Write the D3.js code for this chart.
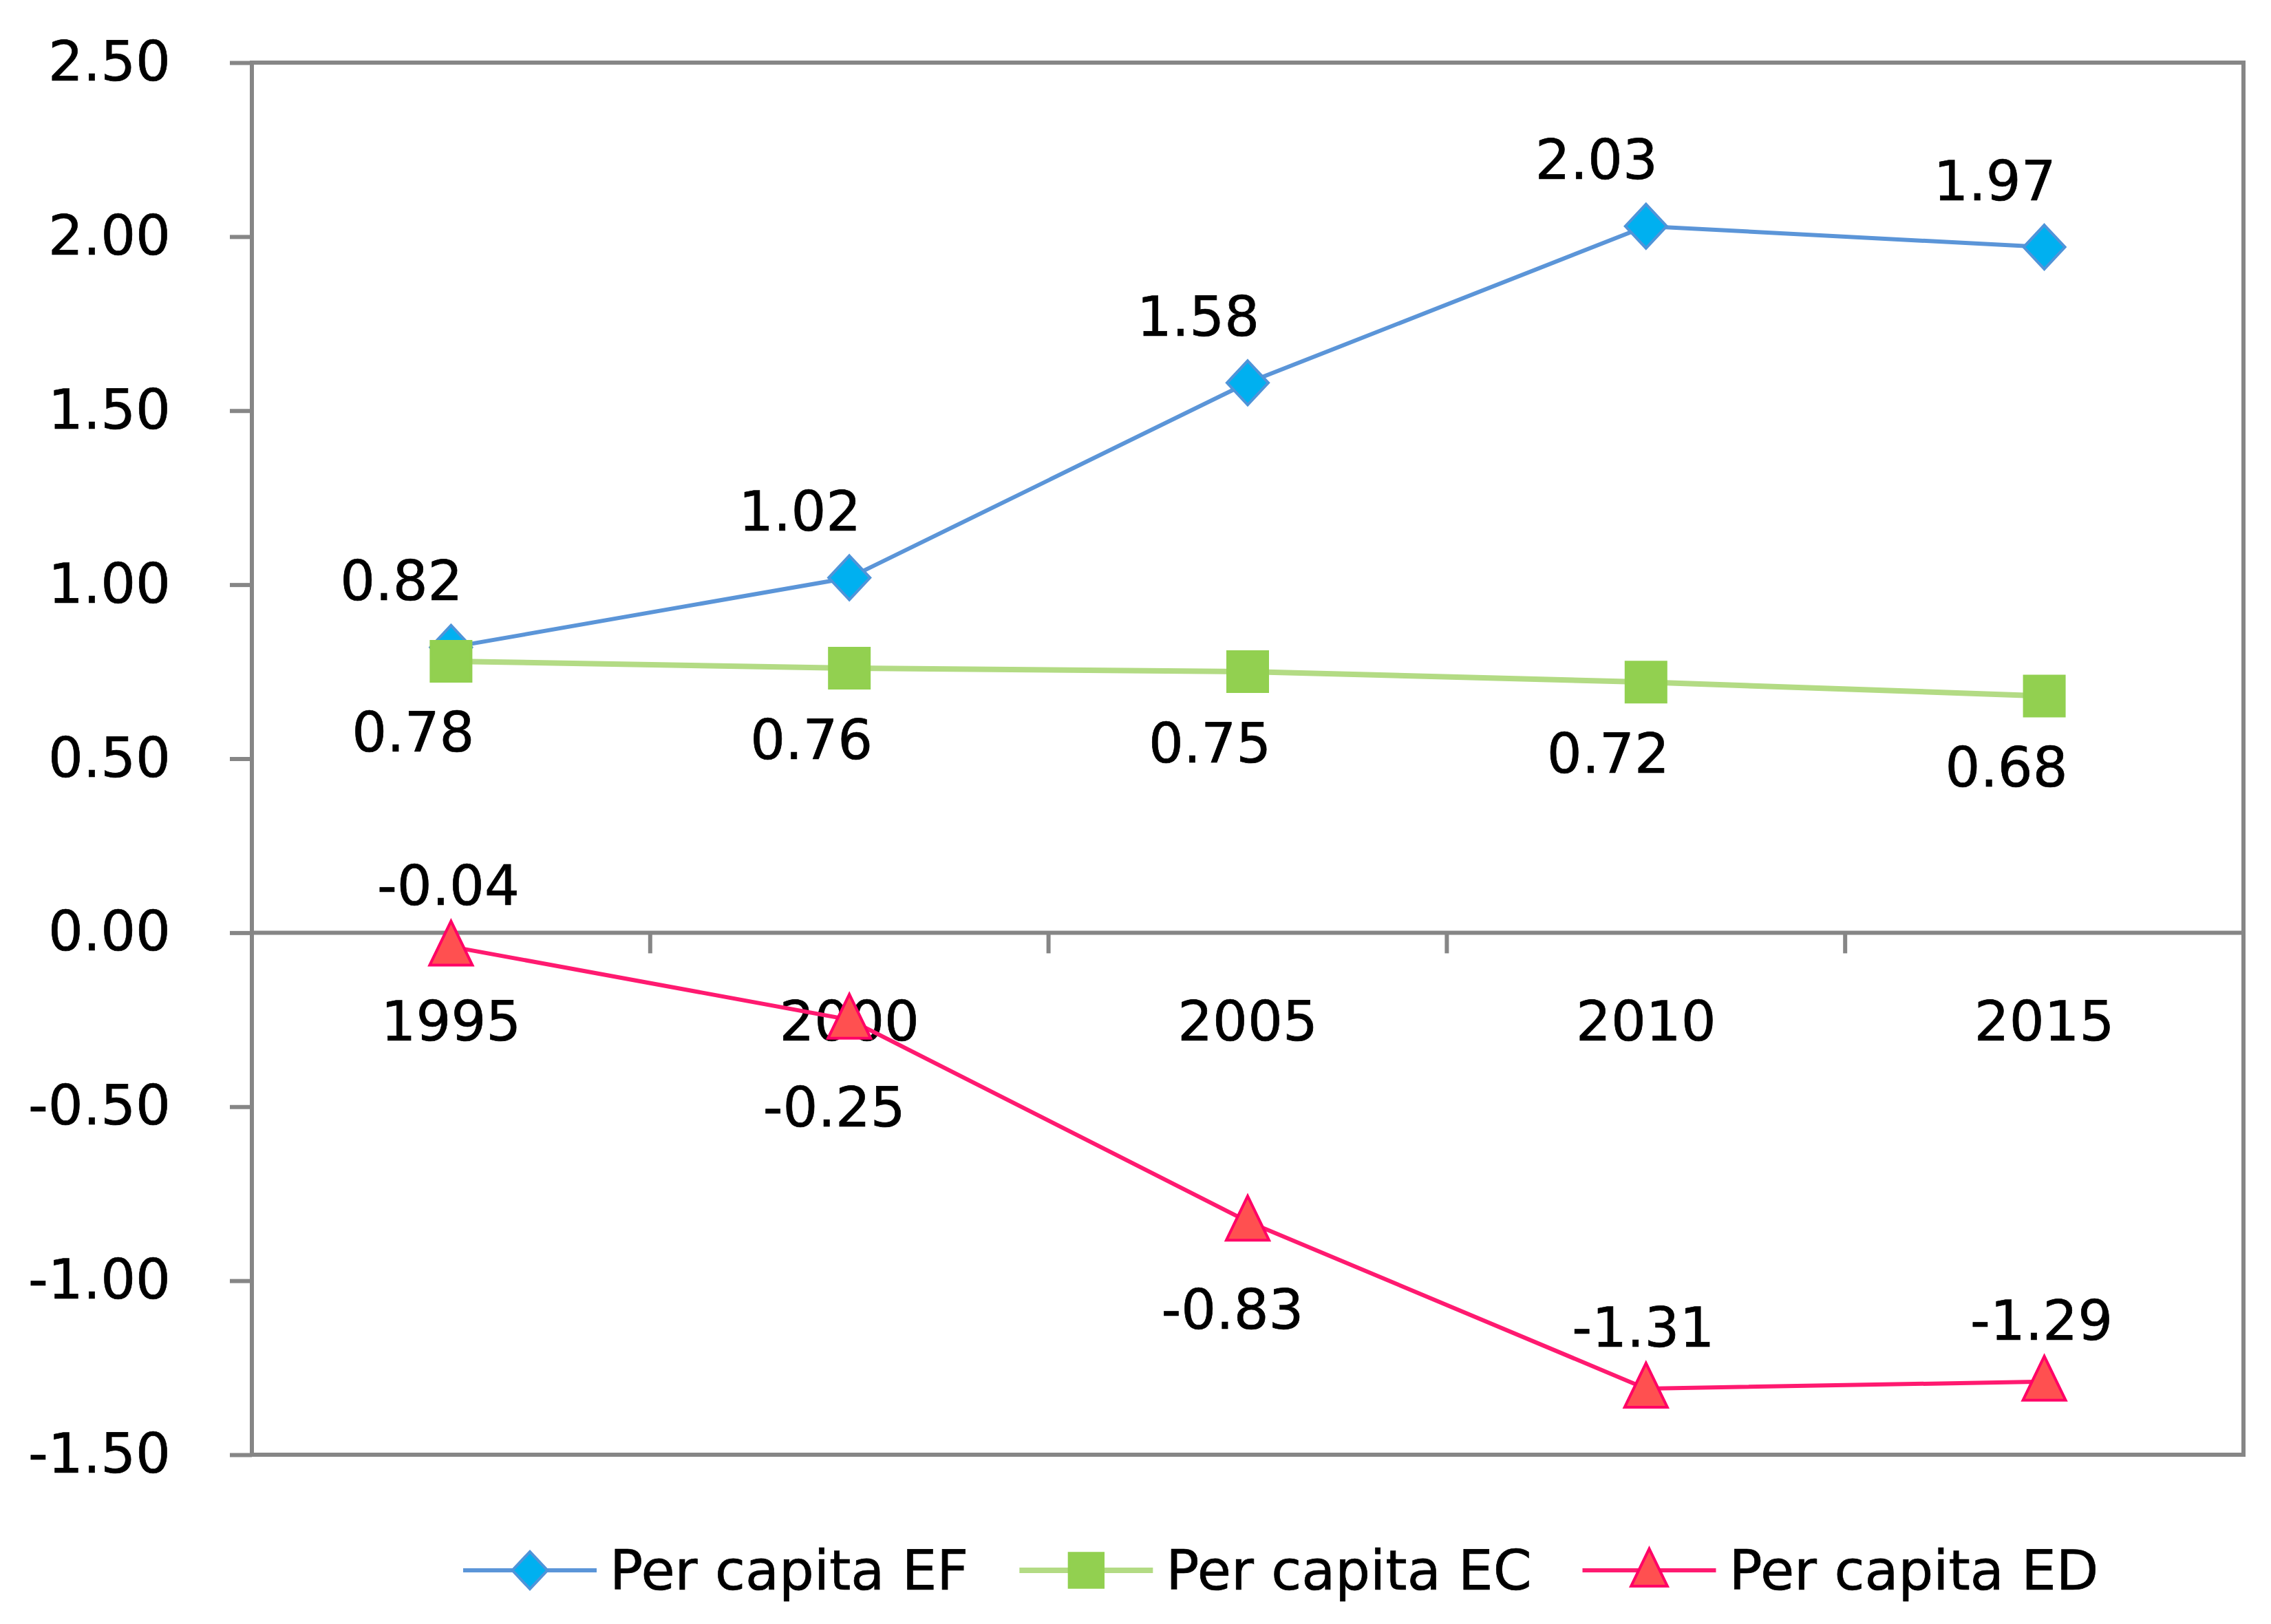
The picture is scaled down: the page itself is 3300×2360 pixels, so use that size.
<!DOCTYPE html>
<html>
<head>
<meta charset="utf-8">
<script src="https://cdn.jsdelivr.net/npm/d3@7"></script>
<style>
  html, body { margin: 0; padding: 0; background: #fff; }
  svg text { font-family: "DejaVu Sans", Verdana, sans-serif; fill: #000; stroke: #000; stroke-width: 0.7px; }
</style>
</head>
<body>
<div id="main"></div>
<script>
const years = ["1995", "2000", "2005", "2010", "2015"];
const yTicks = [-1.5, -1.0, -0.5, 0, 0.5, 1.0, 1.5, 2.0, 2.5];

const seriesNames = ["Per capita EF", "Per capita EC", "Per capita ED"];
const efValues = [0.82, 1.02, 1.58, 2.03, 1.97];
const ecValues = [0.78, 0.76, 0.75, 0.72, 0.68];
const edValues = [-0.04, -0.25, -0.83, -1.31, -1.29];
// which side of the point the ED label sits on
const edLabelSide = ["top", "bottom", "bottom", "top", "top"];

class PerCapitaChart {

    constructor(config) {
        this.config = config;
        this.svg = null;
        this.xScale = null;
        this.yScale = null;
        this.format = d3.formatLocale({decimal: ".", thousands: ",", grouping: [3], currency: ["", ""], minus: "-"}).format(".2f");
        this.createSvg();
    }

    createSvg() {
        this.svg = d3.select(this.config.div)
            .append("svg")
            .attr("width", this.config.width)
            .attr("height", this.config.height);
    }

    createScales() {
        const c = this.config;
        this.xScale = d3.scaleBand().domain(years).range([c.left, c.width - c.right]).padding(0);
        this.yScale = d3.scaleLinear().domain([-1.5, 2.5]).range([c.height - c.bottom, c.top]);
    }

    createAxis() {
        const c = this.config;
        const grey = "#868686";

        // frame
        this.svg.append("rect")
            .attr("x", c.left)
            .attr("y", c.top)
            .attr("width", c.width - c.right - c.left)
            .attr("height", c.height - c.bottom - c.top)
            .attr("fill", "none")
            .attr("stroke", grey)
            .attr("stroke-width", 6);

        let yAxis = d3.axisLeft(this.yScale)
            .tickValues(yTicks)
            .tickFormat(this.format)
            .tickSize(32)
            .tickPadding(86);

        this.svg.append("g")
            .attr("transform", `translate(${c.left},0)`)
            .call(yAxis)
            .call(g => g.select(".domain").remove())
            .call(g => g.selectAll("line").attr("stroke", grey).attr("stroke-width", 6))
            .call(g => g.selectAll("text")
                .attr("font-size", 80)
                .attr("font-family", "DejaVu Sans")
                .attr("fill", "#000"));

        // zero line with category ticks
        const y0 = this.yScale(0);
        this.svg.append("line")
            .attr("x1", c.left).attr("x2", c.width - c.right)
            .attr("y1", y0).attr("y2", y0)
            .attr("stroke", grey).attr("stroke-width", 6);

        this.svg.append("g")
            .selectAll("line")
            .data(years.slice(1))
            .join("line")
            .attr("x1", d => this.xScale(d)).attr("x2", d => this.xScale(d))
            .attr("y1", y0).attr("y2", y0 + 30)
            .attr("stroke", grey).attr("stroke-width", 6);

        let xAxis = d3.axisBottom(this.xScale).tickSize(0).tickPadding(100);
        this.svg.append("g")
            .attr("transform", `translate(0,${y0})`)
            .call(xAxis)
            .call(g => g.select(".domain").remove())
            .call(g => g.selectAll("text")
                .attr("font-size", 80)
                .attr("font-family", "DejaVu Sans")
                .attr("fill", "#000"));
    }

    symbolPath(kind, scale) {
        const k = scale || 1;
        if (kind === "diamond") {
            const w = 30 * k, h = 32 * k;
            return `M0,${-h}L${w},0L0,${h}L${-w},0Z`;
        }
        if (kind === "square") {
            const s = 29 * k;
            return `M${-s},${-s}H${s}V${s}H${-s}Z`;
        }
        const w = 31 * k;
        return `M0,${-37 * k}L${w},${27 * k}H${-w}Z`;
    }

    renderSeries(values, style) {
        const pts = values.map((v, i) => ({
            year: years[i], value: v,
            x: this.xScale(years[i]) + this.xScale.bandwidth() / 2,
            y: this.yScale(v)
        }));

        const line = d3.line().x(d => d.x).y(d => d.y);

        this.svg.append("path")
            .datum(pts)
            .attr("d", line)
            .attr("fill", "none")
            .attr("stroke", style.line)
            .attr("stroke-width", style.width);

        this.svg.append("g")
            .selectAll("path")
            .data(pts)
            .join("path")
            .attr("transform", d => `translate(${d.x},${d.y})`)
            .attr("d", this.symbolPath(style.marker))
            .attr("fill", style.fill)
            .attr("stroke", style.stroke)
            .attr("stroke-width", 4);

        this.svg.append("g")
            .selectAll("text")
            .data(pts)
            .join("text")
            .attr("x", (d, i) => d.x + style.dx(i))
            .attr("y", (d, i) => d.y + style.dy(i))
            .attr("dominant-baseline", "central")
            .attr("text-anchor", "middle")
            .attr("font-size", 80)
            .text(d => this.format(d.value));
    }

    legendRender(styles) {
        const y = 2282;
        let x = 673;
        styles.forEach((s, i) => {
            const g = this.svg.append("g");
            g.append("line")
                .attr("x1", x).attr("x2", x + 194)
                .attr("y1", y).attr("y2", y)
                .attr("stroke", s.line).attr("stroke-width", s.width);
            g.append("path")
                .attr("transform", `translate(${x + 97},${y})`)
                .attr("d", this.symbolPath(s.marker, 0.85))
                .attr("fill", s.fill)
                .attr("stroke", s.stroke)
                .attr("stroke-width", 4);
            const t = g.append("text")
                .attr("x", x + 213)
                .attr("y", y)
                .attr("dominant-baseline", "central")
                .attr("font-size", 80)
                .text(seriesNames[i]);
            x = x + 213 + t.node().getComputedTextLength() + 74;
        });
    }
}

function main() {
    let config = {div: "#main", width: 3300, height: 2360, top: 91, left: 366, bottom: 246, right: 40};
    let app = new PerCapitaChart(config);
    app.createScales();
    app.createAxis();

    const efStyle = {line: "#5B95D8", width: 6, marker: "diamond", fill: "#00B0F0", stroke: "#4F94D9",
        dx: () => -72, dy: () => -96};
    const ecStyle = {line: "#B3DB84", width: 8, marker: "square", fill: "#92D050", stroke: "#92D050",
        dx: () => -55, dy: () => 104};
    const edStyle = {line: "#FF1A70", width: 6, marker: "triangle", fill: "#FF5050", stroke: "#FF0066",
        dx: i => edLabelSide[i] === "top" ? -4 : -22,
        dy: i => edLabelSide[i] === "top" ? -88 : 128};

    app.renderSeries(efValues, efStyle);
    app.renderSeries(ecValues, ecStyle);
    app.renderSeries(edValues, edStyle);
    app.legendRender([efStyle, ecStyle, edStyle]);
}

main();
</script>
</body>
</html>
